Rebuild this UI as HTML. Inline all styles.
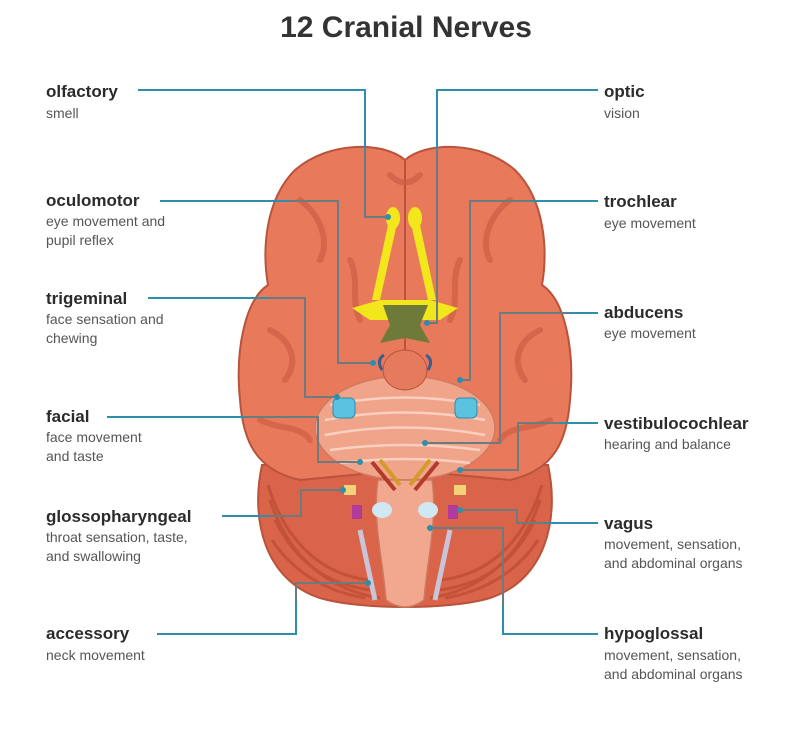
<!DOCTYPE html>
<html><head><meta charset="utf-8"><style>
html,body{margin:0;padding:0;background:#fff;}
body{width:812px;height:733px;overflow:hidden;position:relative;font-family:"Liberation Sans",sans-serif;}
.t{position:absolute;color:#2b2b2b;font-weight:bold;font-size:17px;line-height:20px;}
.d{position:absolute;color:#555;font-size:14px;line-height:19px;}
</style></head><body>
<svg width="812" height="733" style="position:absolute;left:0;top:0">
<g stroke="#b9533b" stroke-width="2">
<path d="M262,465 C250,520 265,580 320,598 C360,610 450,610 490,598 C545,580 560,520 548,465 Z" fill="#d9644a"/>
<path d="M405,160 C385,142 330,140 295,170 C265,200 262,250 268,285 C245,300 235,350 240,400 C243,440 255,470 300,480 L405,470 Z" fill="#e8795b"/>
<path d="M405,160 C425,142 480,140 515,170 C545,200 548,250 542,285 C565,300 575,350 570,400 C567,440 555,470 510,480 L405,470 Z" fill="#e8795b"/>
</g>
<g stroke="#c04f37" stroke-width="3" fill="none" opacity="0.85">
<path d="M270,500 C290,560 330,590 380,598"/><path d="M275,520 C300,570 335,585 370,590"/>
<path d="M268,485 C285,540 320,575 370,580"/><path d="M272,540 C295,575 330,592 365,598"/>
<path d="M540,500 C520,560 480,590 430,598"/><path d="M535,520 C510,570 475,585 440,590"/>
<path d="M542,485 C525,540 490,575 440,580"/><path d="M538,540 C515,575 480,592 445,598"/>
</g>
<g stroke="#cf5f45" stroke-width="6" fill="none" opacity="0.7" stroke-linecap="round">
<path d="M300,200 C320,215 330,240 320,260"/><path d="M510,200 C490,215 480,240 490,260"/>
<path d="M270,330 C290,340 300,360 285,380"/><path d="M540,330 C520,340 510,360 525,380"/>
<path d="M350,260 C360,280 350,300 360,320"/><path d="M460,260 C450,280 460,300 450,320"/>
<path d="M260,420 C280,430 300,425 310,440"/><path d="M550,420 C530,430 510,425 500,440"/>
<path d="M390,175 C400,185 410,185 420,175"/>
</g>
<ellipse cx="405" cy="428" rx="90" ry="52" fill="#f0a48a" stroke="#d07a60" stroke-width="1.5"/>
<g stroke="#fbd0bf" stroke-width="2.5" fill="none">
<path d="M330,405 Q405,390 480,405"/><path d="M325,420 Q405,405 485,420"/><path d="M325,435 Q405,420 485,435"/><path d="M330,450 Q405,440 480,450"/><path d="M340,463 Q405,455 470,463"/>
</g>
<ellipse cx="405" cy="370" rx="22" ry="20" fill="#e57a5c" stroke="#b9533b"/>
<path d="M378,480 C372,520 383,560 386,600 Q405,614 424,600 C427,560 438,520 432,480 Z" fill="#f2a88e" stroke="#cc7a60" stroke-width="1.5"/>
<path d="M360,530 L375,600 M450,530 L435,600" stroke="#c9c4d8" stroke-width="5" fill="none"/>
<ellipse cx="382" cy="510" rx="10" ry="8" fill="#cfe8f4"/><ellipse cx="428" cy="510" rx="10" ry="8" fill="#cfe8f4"/>
<g fill="#f2e61d">
<ellipse cx="393" cy="218" rx="7" ry="11"/><ellipse cx="415" cy="218" rx="7" ry="11"/>
<path d="M388,225 L372,300 L380,300 L396,228Z M420,225 L436,300 L428,300 L412,228Z"/>
<path d="M352,308 L380,300 L430,300 L458,308 L440,320 L370,320Z"/>
</g>
<path d="M383,305 L428,305 L420,325 L430,343 L405,338 L380,343 L390,325Z" fill="#6e7a3a"/>
<path d="M382,370 Q376,360 384,355 M428,370 Q434,360 426,355" stroke="#3a5f8f" stroke-width="3" fill="none"/>
<g fill="#5bc3e0" stroke="#2b8db0"><rect x="333" y="398" width="22" height="20" rx="5"/><rect x="455" y="398" width="22" height="20" rx="5"/></g>
<g stroke-width="4" fill="none">
<path d="M372,462 L395,490" stroke="#b33a2a"/><path d="M438,462 L415,490" stroke="#b33a2a"/>
<path d="M380,460 L400,485" stroke="#d49a2a"/><path d="M430,460 L410,485" stroke="#d49a2a"/>
</g>
<rect x="344" y="485" width="12" height="10" fill="#f4d27a"/><rect x="454" y="485" width="12" height="10" fill="#f4d27a"/>
<rect x="352" y="505" width="10" height="14" fill="#b23a9a"/><rect x="448" y="505" width="10" height="14" fill="#b23a9a"/>
<g fill="none" stroke-width="2">
<g stroke="#2d8fae">
<path d="M138,90 H365 V150"/><path d="M598,90 H437 V150"/>
<path d="M160,201 H290"/><path d="M598,201 H530"/>
<path d="M148,298 H270"/><path d="M598,313 H570"/>
<path d="M107,417 H245"/><path d="M598,423 H560"/>
<path d="M222,516 H270"/><path d="M598,523 H545"/>
<path d="M157,634 H296 V600"/><path d="M598,634 H503 V605"/>
</g>
<g stroke="#6d7a80">
<path d="M365,150 V217 H388"/><path d="M437,150 V323 H427"/>
<path d="M290,201 H338 V363 H373"/><path d="M530,201 H470 V380 H460"/>
<path d="M270,298 H305 V397 H337"/><path d="M570,313 H500 V443 H425"/>
<path d="M245,417 H318 V462 H360"/><path d="M560,423 H518 V470 H460"/>
<path d="M270,516 H301 V490 H343"/><path d="M545,523 H517 V510 H460"/>
<path d="M296,600 V583 H368"/><path d="M503,605 V528 H430"/>
</g>
</g>
<g fill="#2d8fae">
<circle cx="388" cy="217" r="3"/><circle cx="427" cy="323" r="3"/><circle cx="373" cy="363" r="3"/><circle cx="460" cy="380" r="3"/>
<circle cx="337" cy="397" r="3"/><circle cx="425" cy="443" r="3"/><circle cx="360" cy="462" r="3"/><circle cx="460" cy="470" r="3"/>
<circle cx="343" cy="490" r="3"/><circle cx="460" cy="510" r="3"/><circle cx="368" cy="583" r="3"/><circle cx="430" cy="528" r="3"/>
</g>
</svg>
<div style="position:absolute;left:0;width:812px;top:11px;text-align:center;font-weight:bold;font-size:30px;color:#333">12 Cranial Nerves</div>
<div class="t" style="left:46px;top:82px">olfactory</div><div class="d" style="left:46px;top:104px">smell</div>
<div class="t" style="left:46px;top:191px">oculomotor</div><div class="d" style="left:46px;top:212px">eye movement and<br>pupil reflex</div>
<div class="t" style="left:46px;top:289px">trigeminal</div><div class="d" style="left:46px;top:310px">face sensation and<br>chewing</div>
<div class="t" style="left:46px;top:407px">facial</div><div class="d" style="left:46px;top:428px">face movement<br>and taste</div>
<div class="t" style="left:46px;top:507px">glossopharyngeal</div><div class="d" style="left:46px;top:528px">throat sensation, taste,<br>and swallowing</div>
<div class="t" style="left:46px;top:624px">accessory</div><div class="d" style="left:46px;top:646px">neck movement</div>
<div class="t" style="left:604px;top:82px">optic</div><div class="d" style="left:604px;top:104px">vision</div>
<div class="t" style="left:604px;top:192px">trochlear</div><div class="d" style="left:604px;top:214px">eye movement</div>
<div class="t" style="left:604px;top:303px">abducens</div><div class="d" style="left:604px;top:324px">eye movement</div>
<div class="t" style="left:604px;top:414px">vestibulocochlear</div><div class="d" style="left:604px;top:435px">hearing and balance</div>
<div class="t" style="left:604px;top:514px">vagus</div><div class="d" style="left:604px;top:535px">movement, sensation,<br>and abdominal organs</div>
<div class="t" style="left:604px;top:624px">hypoglossal</div><div class="d" style="left:604px;top:646px">movement, sensation,<br>and abdominal organs</div>
</body></html>
